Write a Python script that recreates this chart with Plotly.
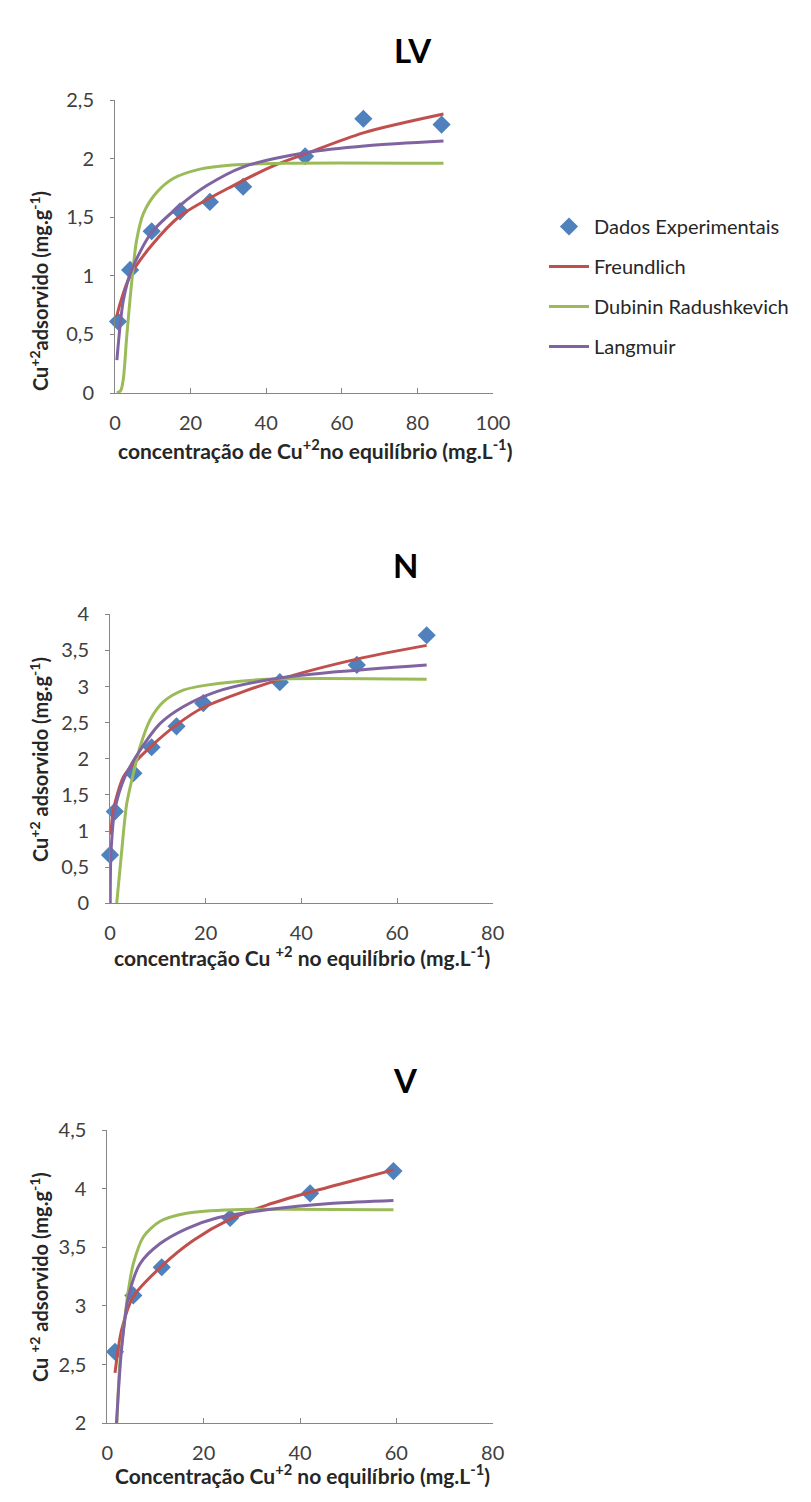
import plotly.graph_objects as go

# ---------------- DATA ----------------
# LV
lv_exp_x = [0.8, 4.0, 9.7, 17.2, 25.1, 33.9, 50.3, 65.7, 86.4]
lv_exp_y = [0.61, 1.05, 1.38, 1.55, 1.63, 1.76, 2.02, 2.34, 2.29]
lv_fr_x = [0.5, 1.5, 4.0, 9.7, 17.2, 31.3, 42.8, 50.3, 65.7, 86.9]
lv_fr_y = [0.66, 0.78, 1.00, 1.26, 1.51, 1.77, 1.95, 2.04, 2.22, 2.38]
lv_dr_x = [0.5, 1.5, 2.2, 3.1, 4.4, 5.7, 7.5, 11.0, 15.4, 22.5, 31.0, 45.0, 86.9]
lv_dr_y = [0.0, 0.02, 0.12, 0.48, 0.94, 1.30, 1.53, 1.71, 1.83, 1.91, 1.945, 1.96, 1.96]
lv_la_x = [0.5, 2.2, 4.4, 9.7, 17.2, 24.3, 34.0, 50.3, 66.6, 86.9]
lv_la_y = [0.28, 0.79, 1.05, 1.37, 1.60, 1.77, 1.93, 2.05, 2.11, 2.15]

# N
n_exp_x = [0.0, 1.0, 4.9, 8.7, 13.9, 19.5, 35.5, 51.6, 66.2]
n_exp_y = [0.67, 1.27, 1.80, 2.16, 2.45, 2.77, 3.06, 3.30, 3.71]
n_fr_x = [0.2, 0.7, 2.8, 4.9, 8.7, 13.9, 19.5, 35.5, 51.6, 66.2]
n_fr_y = [0.95, 1.29, 1.75, 1.93, 2.18, 2.47, 2.71, 3.10, 3.38, 3.57]
n_dr_x = [1.4, 2.4, 3.5, 4.9, 6.3, 8.4, 11.2, 15.3, 20.2, 32.8, 66.2]
n_dr_y = [0.0, 0.69, 1.38, 1.80, 2.17, 2.54, 2.79, 2.95, 3.02, 3.10, 3.10]
n_la_x = [0.05, 0.2, 1.0, 3.1, 6.3, 10.5, 15.3, 22.3, 32.8, 46.7, 66.2]
n_la_y = [0.0, 0.69, 1.29, 1.75, 2.12, 2.49, 2.72, 2.93, 3.09, 3.20, 3.30]

# V
v_exp_x = [1.6, 5.4, 11.3, 25.5, 42.1, 59.4]
v_exp_y = [2.61, 3.09, 3.33, 3.75, 3.96, 4.15]
v_fr_x = [1.6, 3.0, 5.4, 11.3, 17.9, 25.5, 33.1, 42.1, 51.1, 59.4]
v_fr_y = [2.43, 2.80, 3.08, 3.34, 3.56, 3.74, 3.86, 3.97, 4.07, 4.16]
v_dr_x = [1.8, 2.6, 3.5, 4.4, 5.4, 7.5, 10.9, 16.5, 26.2, 59.4]
v_dr_y = [1.80, 2.51, 2.85, 3.14, 3.36, 3.59, 3.72, 3.79, 3.82, 3.82]
v_la_x = [1.9, 3.0, 4.4, 6.8, 10.9, 16.5, 22.7, 33.1, 46.9, 59.4]
v_la_y = [2.00, 2.65, 3.08, 3.36, 3.53, 3.66, 3.75, 3.82, 3.875, 3.90]

series_names = ["Dados Experimentais", "Freundlich", "Dubinin Radushkevich", "Langmuir"]
titles = ["LV", "N", "V"]

x_ticks_lv = [0, 20, 40, 60, 80, 100]
x_ticks_nv = [0, 20, 40, 60, 80]
y_ticks_lv = [0, 0.5, 1, 1.5, 2, 2.5]
y_text_lv = ["0", "0,5", "1", "1,5", "2", "2,5"]
y_ticks_n = [0, 0.5, 1, 1.5, 2, 2.5, 3, 3.5, 4]
y_text_n = ["0", "0,5", "1", "1,5", "2", "2,5", "3", "3,5", "4"]
y_ticks_v = [2, 2.5, 3, 3.5, 4, 4.5]
y_text_v = ["2", "2,5", "3", "3,5", "4", "4,5"]

x_titles = [
    "concentração de Cu<sup>+2</sup>no equilíbrio (mg.L<sup>-1</sup>)",
    "concentração Cu <sup>+2</sup> no equilíbrio (mg.L<sup>-1</sup>)",
    "Concentração Cu<sup>+2</sup> no equilíbrio (mg.L<sup>-1</sup>)",
]
y_titles = [
    "Cu<sup>+2</sup>adsorvido (mg.g<sup>-1</sup>)",
    "Cu<sup>+2</sup> adsorvido (mg.g<sup>-1</sup>)",
    "Cu <sup>+2</sup> adsorvido (mg.g<sup>-1</sup>)",
]

# ---------------- STYLE ----------------
W, H = 811, 1502
C_EXP = "#4F81BD"
C_FR = "#C0504D"
C_DR = "#9BBB59"
C_LA = "#8064A2"
FONT = "Lato"
AXC = "#868686"


def px_x(p):
    return p / W


def px_y(p):
    return 1 - p / H


fig = go.Figure()

panels = [
    dict(exp=(lv_exp_x, lv_exp_y), fr=(lv_fr_x, lv_fr_y), dr=(lv_dr_x, lv_dr_y), la=(lv_la_x, lv_la_y),
         xd=(115, 493), yd=(100, 393), xr=[0, 100], yr=[0, 2.5],
         xt=x_ticks_lv, yt=y_ticks_lv, ytt=y_text_lv,
         title_xy=(413, 50), ytitle_xy=(39, 291), xtitle_xy=(315, 449)),
    dict(exp=(n_exp_x, n_exp_y), fr=(n_fr_x, n_fr_y), dr=(n_dr_x, n_dr_y), la=(n_la_x, n_la_y),
         xd=(110, 492.7), yd=(614.3, 903.3), xr=[0, 80], yr=[0, 4],
         xt=x_ticks_nv, yt=y_ticks_n, ytt=y_text_n,
         title_xy=(405, 565), ytitle_xy=(39, 760), xtitle_xy=(302, 956)),
    dict(exp=(v_exp_x, v_exp_y), fr=(v_fr_x, v_fr_y), dr=(v_dr_x, v_dr_y), la=(v_la_x, v_la_y),
         xd=(107.3, 492.7), yd=(1130, 1423.3), xr=[0, 80], yr=[2, 4.5],
         xt=x_ticks_nv, yt=y_ticks_v, ytt=y_text_v,
         title_xy=(405, 1080), ytitle_xy=(39, 1277), xtitle_xy=(302, 1474)),
]

annotations = []
layout_axes = {}
for i, p in enumerate(panels):
    k = "" if i == 0 else str(i + 1)
    xa, ya = "x" + k, "y" + k
    show = i == 0
    fig.add_trace(go.Scatter(
        x=p["exp"][0], y=p["exp"][1], mode="markers", name=series_names[0],
        marker=dict(symbol="diamond", size=14, color=C_EXP),
        xaxis=xa, yaxis=ya, showlegend=show, legendgroup="g0", legendrank=1, cliponaxis=False))
    for j, (key, col) in enumerate([("fr", C_FR), ("dr", C_DR), ("la", C_LA)]):
        fig.add_trace(go.Scatter(
            x=p[key][0], y=p[key][1], mode="lines", name=series_names[j + 1],
            line=dict(color=col, width=3, shape="spline", smoothing=0.8),
            xaxis=xa, yaxis=ya, showlegend=show, legendgroup="g" + str(j + 1), legendrank=j + 2))
    layout_axes["xaxis" + k] = dict(
        domain=[px_x(p["xd"][0]), px_x(p["xd"][1])], range=p["xr"], anchor=ya,
        tickvals=p["xt"], ticktext=[str(v) for v in p["xt"]], automargin=False,
        showline=True, linecolor=AXC, linewidth=1, showgrid=False, zeroline=False,
        ticks="inside", ticklen=5, tickcolor=AXC,
        tickfont=dict(family=FONT, size=20, color="#404040"), ticklabelstandoff=12)
    layout_axes["yaxis" + k] = dict(
        domain=[px_y(p["yd"][1]), px_y(p["yd"][0])], range=p["yr"], anchor=xa,
        tickvals=p["yt"], ticktext=p["ytt"], automargin=False,
        showline=True, linecolor=AXC, linewidth=1, showgrid=False, zeroline=False,
        ticks="outside", ticklen=4, tickcolor=AXC,
        tickfont=dict(family=FONT, size=20, color="#404040"), ticklabelstandoff=12)
    annotations.append(dict(text="<b>" + titles[i] + "</b>", x=px_x(p["title_xy"][0]), y=px_y(p["title_xy"][1]),
                            xref="paper", yref="paper", showarrow=False, xanchor="center", yanchor="middle",
                            font=dict(family=FONT, size=33, color="#000000")))
    annotations.append(dict(text="<b>" + x_titles[i] + "</b>", x=px_x(p["xtitle_xy"][0]), y=px_y(p["xtitle_xy"][1]),
                            xref="paper", yref="paper", showarrow=False, xanchor="center", yanchor="middle",
                            font=dict(family=FONT, size=21, color="#262626")))
    annotations.append(dict(text="<b>" + y_titles[i] + "</b>", x=px_x(p["ytitle_xy"][0]), y=px_y(p["ytitle_xy"][1]),
                            xref="paper", yref="paper", showarrow=False, xanchor="center", yanchor="middle",
                            textangle=-90, font=dict(family=FONT, size=20, color="#262626")))

fig.update_layout(
    width=W, height=H, margin=dict(l=0, r=0, t=0, b=0, pad=0, autoexpand=False),
    paper_bgcolor="white", plot_bgcolor="white",
    showlegend=True,
    legend=dict(x=px_x(544), y=px_y(207), xanchor="left", yanchor="top",
                font=dict(family=FONT, size=20, color="#262626"),
                tracegroupgap=11, itemwidth=40, bgcolor="rgba(0,0,0,0)"),
    annotations=annotations,
    **layout_axes,
)

fig.write_html("out.html")
